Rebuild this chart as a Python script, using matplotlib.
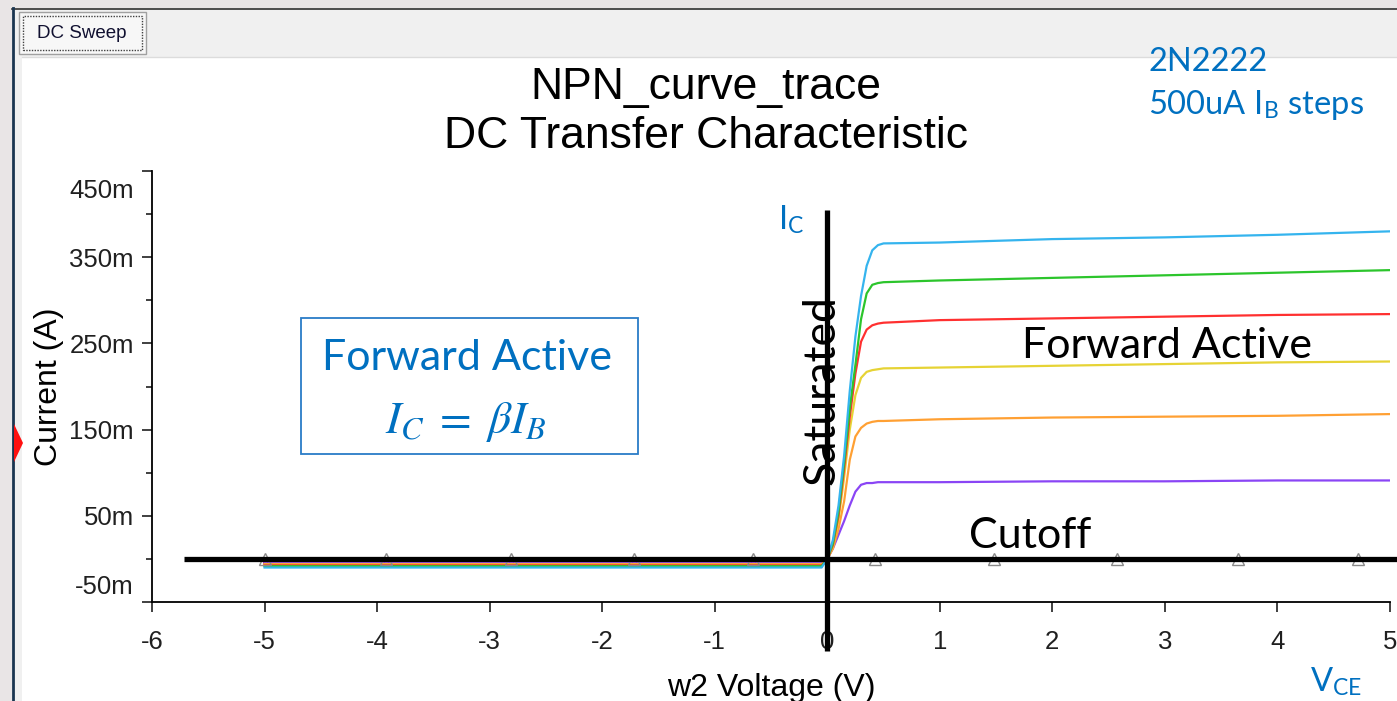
import numpy as np
import matplotlib.pyplot as plt
from matplotlib.patches import Rectangle, Polygon
from matplotlib.transforms import ScaledTranslation

W, H = 1397, 701

# sweep voltage (V) shared by every trace
v_ce = [-5.0, -0.05, 0.0, 0.05, 0.1, 0.15, 0.2, 0.25, 0.3, 0.35, 0.4, 0.45, 0.5,
        1.0, 2.0, 3.0, 4.0, 5.0]

# collector current (mA) for the six base current steps
ic_05mA = [-5, -5, 0, 12, 28, 44, 62, 78, 86, 88, 88, 89, 89, 89, 90, 90, 91, 91]
ic_10mA = [-6, -6, 0, 12, 35, 67, 115, 142, 152, 157, 159, 160, 160, 162, 164, 165, 166, 168]
ic_15mA = [-7, -7, 0, 14, 45, 95, 150, 190, 210, 217, 219, 220, 221, 222, 224, 226, 228, 229]
ic_20mA = [-7.5, -7.5, 0, 16, 50, 105, 165, 215, 252, 266, 271, 273, 274, 277, 279, 281, 283, 284]
ic_25mA = [-8.5, -8.5, 0, 18, 55, 112, 175, 225, 278, 308, 318, 320, 321, 323, 326, 329, 332, 335]
ic_30mA = [-10, -10, 0, 22, 62, 120, 195, 258, 305, 340, 358, 364, 366, 367, 371, 373, 376, 380]

traces = [ic_05mA, ic_10mA, ic_15mA, ic_20mA, ic_25mA, ic_30mA]
colors = ['#8A45F5', '#FFA033', '#E6D335', '#FF3030', '#2CC52C', '#35B4EE']

# zero base current trace with its markers
v_zero = [-5.0, 5.0]
marker_v = [-5.0, -3.92, -2.81, -1.72, -0.66, 0.42, 1.48, 2.57, 3.65, 4.72]

x_ticks = [-6, -5, -4, -3, -2, -1, 0, 1, 2, 3, 4, 5]
y_ticks = [-0.05, 0.05, 0.15, 0.25, 0.35, 0.45]
y_labels = ['-50m', '50m', '150m', '250m', '350m', '450m']
y_minor = [0.0, 0.1, 0.2, 0.3, 0.4]

plt.rcParams['mathtext.fontset'] = 'stix'
ARIAL = 'Liberation Sans'
CAL = 'Lato'
BLUE = '#0070C0'


def fx(x):
    return x / W


def fy(y):
    return 1 - y / H


fig = plt.figure(figsize=(W / 100, H / 100), dpi=100)
fig.patch.set_facecolor('#e9e5e6')

# window chrome (behind the axes)
def chrome(artist):
    artist.set_zorder(-10)
    fig.add_artist(artist)

chrome(Rectangle((fx(12), 0), 1, fy(8), transform=fig.transFigure,
                 facecolor='#f0f0f0', edgecolor='none'))
chrome(Rectangle((fx(22), 0), 1, fy(57), transform=fig.transFigure,
                 facecolor='white', edgecolor='none'))
chrome(plt.Line2D([fx(12), 1], [fy(8.5), fy(8.5)], transform=fig.transFigure,
                  color='#303030', lw=1.2))
chrome(plt.Line2D([fx(12.5), fx(12.5)], [0, fy(8)], transform=fig.transFigure,
                  color='#1a3550', lw=2))
chrome(plt.Line2D([fx(22), 1], [fy(56.5), fy(56.5)], transform=fig.transFigure,
                  color='#dcdcdc', lw=1))
chrome(Rectangle((fx(19), fy(54)), fx(127), 42 / H, transform=fig.transFigure,
                 facecolor='#f7f7f7', edgecolor='#a0a0a0', lw=1))
chrome(Rectangle((fx(23), fy(50)), fx(119), 34 / H, transform=fig.transFigure,
                 facecolor='none', edgecolor='#404040', lw=1, ls=(0, (1, 1))))
fig.text(fx(82), fy(33), 'DC Sweep', family=ARIAL, fontsize=13.5, color='#101030',
         ha='center', va='center')
fig.add_artist(Polygon([[fx(14), fy(424)], [fx(23), fy(443)], [fx(14), fy(462)]],
                       closed=True, transform=fig.transFigure, facecolor='#ff1010',
                       edgecolor='none'))

ax = fig.add_axes([fx(152), fy(602), (1390 - 152) / W, (602 - 171) / H])
ax.set_facecolor('none')

for ic, c in zip(traces, colors):
    ax.plot(v_ce, np.array(ic) / 1000.0, color=c, lw=1.6, zorder=3)

ax.plot(v_zero, [0, 0], color='#909090', lw=1, zorder=2)
ax.plot(marker_v, np.zeros(len(marker_v)), ls='none', marker='^', ms=9,
        mfc='none', mec='#8a8a8a', mew=1, zorder=4, clip_on=False)
neg_v = [v for v in marker_v if v < 0]
ax.plot(neg_v, np.full(len(neg_v), -0.004), ls='none', marker='s', ms=3,
        mfc='none', mec='#c030b0', mew=0.8, zorder=2)

# hand drawn region lines
ax.plot([-5.72, 5.1], [0, 0], color='black', lw=3.8, zorder=5, clip_on=False,
        solid_capstyle='butt')
ax.plot([0, 0], [0.405, -0.107], color='black', lw=3.8, zorder=5, clip_on=False,
        solid_capstyle='butt')

ax.set_xlim(-6, 5)
ax.set_ylim(-0.05, 0.45)
ax.set_xticks(x_ticks)
ax.set_xticklabels([str(t) for t in x_ticks], family=ARIAL, fontsize=18.5)
ax.set_yticks(y_ticks)
ax.set_yticklabels(y_labels, family=ARIAL, fontsize=18.5)
ax.set_yticks(y_minor, minor=True)
ax.tick_params(axis='both', which='major', direction='out', length=7, width=1.2,
               colors='#202020')
ax.tick_params(axis='x', which='major', pad=13)
ax.tick_params(axis='y', which='major', pad=6)
ax.tick_params(axis='y', which='minor', direction='out', length=4, width=1.2,
               colors='#202020')
ax.spines['top'].set_visible(False)
ax.spines['right'].set_visible(False)
ax.spines['left'].set_linewidth(1.3)
ax.spines['bottom'].set_linewidth(1.3)

labels = ax.get_yticklabels()
labels[0].set_transform(labels[0].get_transform() + ScaledTranslation(0, 0.17, fig.dpi_scale_trans))
labels[-1].set_transform(labels[-1].get_transform() + ScaledTranslation(0, -0.17, fig.dpi_scale_trans))

ax.set_xlabel('w2 Voltage (V)', family=ARIAL, fontsize=23, labelpad=14)
ax.set_ylabel('Current (A)', family=ARIAL, fontsize=23, labelpad=4)

fig.text(fx(706), fy(87), 'NPN_curve_trace', family=ARIAL, fontsize=32,
         ha='center', va='center')
fig.text(fx(706), fy(137), 'DC Transfer Characteristic', family=ARIAL, fontsize=32,
         ha='center', va='center')

# annotations
fig.text(fx(1148), fy(62), '2N2222', family=CAL, fontsize=23.5, color=BLUE,
         ha='left', va='center')
fig.text(fx(1148), fy(105), r'500uA I$_{\mathregular{B}}$ steps', family=CAL,
         fontsize=23.5, color=BLUE, ha='left', va='center')
fig.text(fx(778), fy(220), r'I$_{\mathregular{C}}$', family=CAL, fontsize=23.5,
         color=BLUE, ha='left', va='center')
fig.text(fx(1310), fy(682), r'V$_{\mathregular{CE}}$', family=CAL, fontsize=23.5,
         color=BLUE, ha='left', va='center')
fig.text(fx(822), fy(390), 'Saturated', family=CAL, fontsize=32, rotation=90,
         ha='center', va='center', color='black')
fig.text(fx(1167), fy(346), 'Forward Active', family=CAL, fontsize=31,
         ha='center', va='center', color='black')
fig.text(fx(1030), fy(536), 'Cutoff', family=CAL, fontsize=31,
         ha='center', va='center', color='black')

fig.add_artist(Rectangle((fx(301), fy(454)), (638 - 301) / W, (454 - 318) / H,
                         transform=fig.transFigure, facecolor='white',
                         edgecolor='#2A7CC7', lw=1.3))
fig.text(fx(467), fy(358), 'Forward Active', family=CAL, fontsize=31, color=BLUE,
         ha='center', va='center')
fig.text(fx(466), fy(422), r'$I_C\;=\;\beta I_B$', fontsize=33, color=BLUE,
         ha='center', va='center')

fig.savefig('out.png', dpi=100)
